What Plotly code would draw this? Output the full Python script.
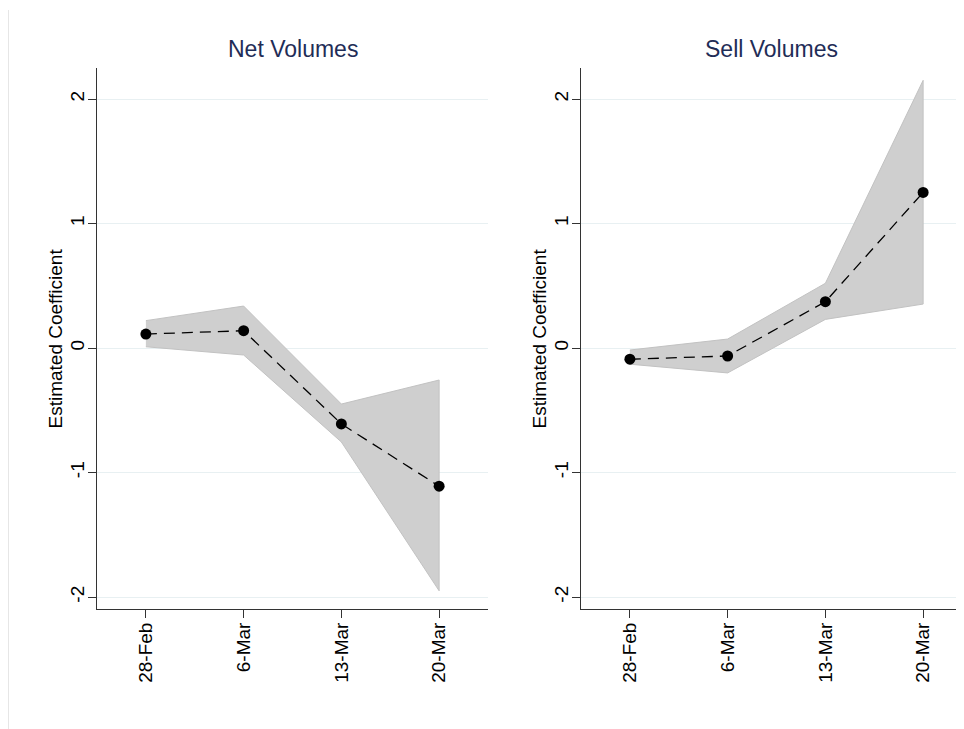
import plotly.graph_objects as go

dates = ["28-Feb", "6-Mar", "13-Mar", "20-Mar"]

net_coef = [0.112, 0.139, -0.61, -1.11]
net_lo = [0.01, -0.056, -0.755, -1.95]
net_hi = [0.22, 0.337, -0.45, -0.257]

sell_coef = [-0.09, -0.064, 0.372, 1.25]
sell_lo = [-0.13, -0.20, 0.23, 0.353]
sell_hi = [-0.016, 0.072, 0.52, 2.15]

yticks = [-2, -1, 0, 1, 2]
titles = ["Net Volumes", "Sell Volumes"]
ytitle = "Estimated Coefficient"

W, H = 964, 729
FONT = "Arial, Liberation Sans, sans-serif"
TITLE_COLOR = "#1f2d57"

fig = go.Figure()

panels = [
    (net_coef, net_lo, net_hi, "x", "y"),
    (sell_coef, sell_lo, sell_hi, "x2", "y2"),
]
for coef, lo, hi, xa, ya in panels:
    fig.add_trace(go.Scatter(
        x=dates + dates[::-1], y=hi + lo[::-1],
        fill="toself", fillcolor="#cfcfcf",
        line=dict(color="#c2c2c2", width=1),
        mode="lines", xaxis=xa, yaxis=ya, hoverinfo="skip", showlegend=False,
    ))
    fig.add_trace(go.Scatter(
        x=dates, y=coef, mode="lines+markers",
        line=dict(color="black", width=1.3, dash="11px,7px"),
        marker=dict(color="black", size=11),
        xaxis=xa, yaxis=ya, showlegend=False,
    ))

ydom = [1 - 601 / H, 1 - 60 / H]
xdoms = [[89 / W, 480 / W], [573 / W, 1.0]]
xranges = [[-0.5, 3.5], [-0.5, 3.5]]
yrange = [-2.096, 2.249]

axis_common = dict(
    showline=True, linecolor="#333333", linewidth=1,
    ticks="outside", ticklen=8, tickcolor="#333333", tickwidth=1,
    tickfont=dict(family=FONT, size=19, color="black"),
    tickangle=-90, zeroline=False,
)

for i, (xd, xr) in enumerate(zip(xdoms, xranges)):
    sfx = "" if i == 0 else "2"
    fig.update_layout(**{
        f"xaxis{sfx}": dict(domain=xd, range=xr, type="category",
                            anchor=f"y{sfx}", showgrid=False,
                            ticklabelstandoff=-3, **axis_common),
        f"yaxis{sfx}": dict(domain=ydom, range=yrange, anchor=f"x{sfx}",
                            tickvals=yticks, ticktext=[str(v) for v in yticks],
                            showgrid=True, gridcolor="#e8f0f2", gridwidth=1,
                            ticklabelstandoff=-4, **axis_common),
    })

annotations = []
centers = [284.5, 763.5]
for t, c in zip(titles, centers):
    annotations.append(dict(
        text=t, x=c / W, y=1 - 41 / H, xref="paper", yref="paper",
        showarrow=False, xanchor="center", yanchor="middle",
        font=dict(family=FONT, size=23, color=TITLE_COLOR),
    ))
for ax in [89, 573]:
    annotations.append(dict(
        text=ytitle, x=(ax - 42) / W, y=(ydom[0] + ydom[1]) / 2,
        xref="paper", yref="paper", showarrow=False, textangle=-90,
        xanchor="center", yanchor="middle",
        font=dict(family=FONT, size=19, color="black"),
    ))

fig.update_layout(
    width=W, height=H,
    margin=dict(l=0, r=0, t=0, b=0),
    paper_bgcolor="white", plot_bgcolor="white",
    annotations=annotations,
    shapes=[dict(type="line", xref="paper", yref="paper",
                 x0=0.5 / W, x1=0.5 / W, y0=0, y1=1 - 2 / H,
                 line=dict(color="#e6e6e6", width=1))],
    showlegend=False,
)

fig.write_html("out.html")
